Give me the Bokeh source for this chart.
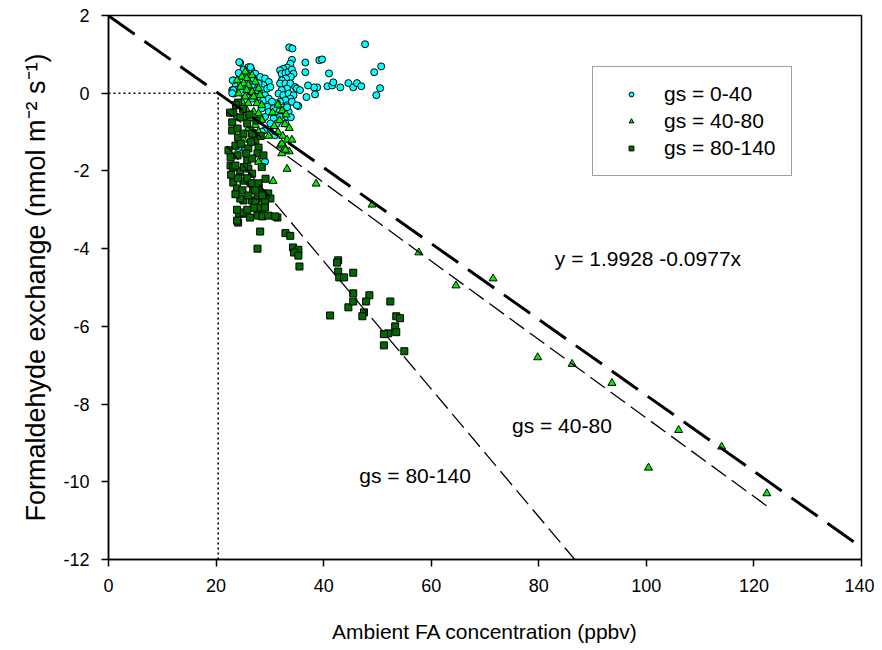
from bokeh.plotting import figure
from bokeh.models import Range1d, Label, Legend, LegendItem, FixedTicker
from bokeh.embed import file_html
from bokeh.resources import INLINE

FONT = "Liberation Sans"

x_ticks = [0, 20, 40, 60, 80, 100, 120, 140]
y_ticks = [-12, -10, -8, -6, -4, -2, 0, 2]

series_names = ["gs = 0-40", "gs = 40-80", "gs = 80-140"]

# gs = 0-40 (cyan circles)
g1_x = [33.6, 34.2, 47.7, 49.4, 50.7, 50.5, 49.8, 36.6, 36.6, 39.2, 39.7, 41.0, 40.7, 41.6, 41.8,
        43.1, 44.6, 45.5, 46.2, 47.0, 38.8, 38.2, 37.1, 38.4, 36.8, 35.3,
        34.1, 33.8, 33.2, 32.5, 31.9, 32.2, 32.9, 33.5, 34.1, 34.4, 33.9, 33.0, 32.2, 31.9, 32.9,
        33.8, 34.7, 35.0, 35.6, 33.2, 32.2, 31.6, 32.5, 33.5, 34.4, 33.8, 32.9, 31.9, 31.3, 33.2,
        34.1, 35.0, 32.5, 33.5, 31.6, 31.0, 31.9, 33.2, 33.9, 30.7, 31.3, 32.9,
        24.5, 26.0, 25.1, 26.6, 27.3, 25.7, 24.2, 23.3, 23.6, 24.5, 26.0, 27.0, 28.2, 29.1, 29.8,
        28.8, 27.9, 26.7, 25.4, 23.9, 23.0, 23.3, 24.8, 26.4, 27.6, 28.5, 29.5, 30.1, 29.1, 27.9,
        26.7, 25.4, 28.8, 29.8, 30.4, 29.5, 28.5, 29.8, 30.7, 29.1, 28.2, 29.1, 30.1, 27.3,
        24.3, 26.4, 23.9, 25.4, 29.1, 28.5, 24.5, 24.1, 30.1, 31.0, 23.2, 23.0, 23.1, 33.2]
g1_y = [1.18, 1.15, 1.26, 0.54, 0.69, 0.13, -0.05, 0.79, 0.54, 0.85, 0.87, 0.51, 0.18, 0.20, 0.28,
        0.15, 0.26, 0.15, 0.26, 0.18, 0.15, 0.15, 0.20, -0.03, -0.10, -0.33,
        0.86, 0.76, 0.66, 0.63, 0.59, 0.50, 0.52, 0.55, 0.61, 0.50, 0.42, 0.38, 0.33, 0.25, 0.25,
        0.25, 0.16, 0.12, 0.08, 0.12, 0.08, -0.01, -0.05, -0.01, -0.05, -0.14, -0.18, -0.22, -0.26, -0.31,
        -0.22, -0.31, -0.44, -0.48, -0.48, -0.56, -0.61, -0.61, -0.62, -0.65, -0.78, -0.78,
        0.78, 0.67, 0.61, 0.59, 0.50, 0.49, 0.52, 0.33, 0.25, 0.29, 0.32, 0.38, 0.42, 0.38, 0.29,
        0.21, 0.25, 0.21, 0.16, 0.09, 0.08, -0.01, 0.01, 0.03, 0.08, 0.08, 0.12, 0.16, -0.05, -0.09,
        -0.14, -0.16, -0.18, -0.14, -0.22, -0.35, -0.39, -0.48, -0.39, -0.61, -0.65, -0.95, -0.78, -1.03,
        0.80, 0.67, -1.33, -1.46, -1.76, -0.99, -1.20, -1.41, -1.00, -1.08, 0.08, 0.00, 0.33, -0.36]

# gs = 40-80 (green triangles)
g2_x = [25.4, 24.8, 25.7, 26.7, 23.9, 25.1, 26.0, 27.3, 24.5, 25.7, 26.7, 27.9, 24.2, 25.4, 27.0,
        28.2, 24.8, 26.0, 27.6, 28.5, 25.7, 27.0, 27.9, 25.1, 26.4, 28.5, 27.3, 26.0, 27.9,
        31.5, 32.3, 33.0, 31.8, 32.8, 33.6, 31.5, 32.4, 33.2, 31.9, 32.8, 33.6, 32.2, 30.8, 30.5,
        34.1, 29.8, 24.5, 32.2, 32.9, 25.1, 27.9, 26.9,
        33.2, 30.6, 38.6, 49.0, 57.7, 64.6, 71.5, 79.8, 86.2, 93.6, 100.4, 106.0, 114.0, 122.4]
g2_y = [0.55, 0.42, 0.38, 0.46, 0.33, 0.25, 0.21, 0.29, 0.16, 0.08, 0.03, 0.12, -0.01, -0.09, -0.09,
        -0.05, -0.22, -0.26, -0.26, -0.31, -0.44, -0.48, -0.52, -0.61, -0.65, -0.69, -0.82, -0.91, -0.99,
        -0.30, -0.45, -0.55, -0.70, -0.80, -0.90, -1.00, -1.10, -1.20, -1.35, -1.40, -1.50, -1.55, -0.85, -0.50,
        -1.20, -1.10, -2.05, -1.30, -1.46, -1.20, -1.77, -1.00,
        -1.95, -2.26, -2.33, -2.87, -4.10, -4.95, -4.77, -6.80, -6.97, -7.46, -9.64, -8.67, -9.10, -10.30]

# gs = 80-140 (dark green squares)
g3_x = [24.1, 23.2, 24.5, 23.0, 24.1, 23.6, 22.7, 23.2, 24.5, 23.2, 25.1, 26.4, 26.9, 27.9, 28.8,
        25.1, 26.7, 29.7, 30.1, 24.1, 24.9, 31.4, 27.3, 28.6, 29.1,
        23.6, 24.1, 23.9, 24.9, 24.5, 25.8, 26.0, 26.7, 25.8, 26.7, 27.9, 27.3, 26.0, 27.7, 28.6,
        29.1, 27.3, 28.2, 29.1, 27.7, 28.6, 29.7, 31.0, 24.3, 25.1, 23.9, 26.9, 27.3, 27.9, 26.0,
        27.7, 28.8, 26.7, 22.3, 22.7, 23.0, 24.0, 25.8, 25.1, 26.7,
        25.0, 26.2, 27.5, 24.6, 25.6, 26.5, 28.3, 24.0, 25.2, 28.5, 29.2, 27.0, 25.8, 23.6, 22.8,
        23.7, 22.6, 23.9, 26.3,
        28.2, 27.7, 32.9, 33.8, 34.3, 35.3, 34.5, 35.3, 35.5, 42.7, 42.5, 42.7, 42.9, 43.8, 45.5,
        41.2, 44.6, 45.5, 45.5, 48.5, 47.9, 52.4, 47.5, 47.2, 53.5, 54.2, 53.3, 53.5, 52.0, 51.2,
        51.2, 55.0]
g3_y = [-0.24, -0.50, -0.62, -0.96, -1.14, -1.35, -1.86, -1.91, -1.99, -2.30, -2.25, -2.32, -2.50, -2.43, -2.58,
        -2.76, -2.76, -2.58, -2.71, -3.33, -3.10, -3.20, -2.89, -3.02, -2.84,
        -1.86, -2.19, -2.45, -2.50, -2.71, -1.73, -1.94, -2.07, -2.19, -2.32, -2.32, -2.50, -2.63, -2.71, -2.63,
        -2.81, -2.81, -2.94, -2.94, -3.15, -3.17, -3.15, -3.17, -3.10, -3.07, -3.28, -1.04, -1.22, -1.40, -1.42,
        -1.55, -1.60, -1.68, -1.47, -1.65, -0.75, -0.91, -0.78, -1.04, -1.04,
        -0.40, -0.55, -0.70, -1.30, -1.55, -1.25, -1.10, -1.60, -1.90, -1.90, -2.20, -2.95, -3.00, -2.60, -2.10,
        -0.30, -0.50, -3.00, -3.20,
        -3.56, -4.00, -3.60, -3.67, -3.97, -4.03, -4.10, -4.18, -4.46, -4.30, -4.36, -4.59, -4.74, -4.74, -4.62,
        -5.72, -5.51, -5.15, -5.36, -5.20, -5.36, -5.36, -5.64, -5.74, -5.74, -5.79, -6.00, -6.15, -6.18, -6.20,
        -6.49, -6.64]

# regression lines: overall fit, gs = 40-80, gs = 80-140
fit_intercepts = [1.9928, 1.74, 2.26]
fit_slopes = [-0.0977, -0.101, -0.1645]
fit_xmin = [0.0, 22.0, 22.0]
fit_xmax = [140.0, 123.0, 90.0]

equation_text = "y = 1.9928 -0.0977x"

p = figure(frame_width=753, frame_height=544,
           x_range=Range1d(0, 140), y_range=Range1d(-12, 2),
           output_backend="svg", toolbar_location=None,
           min_border_left=108, min_border_top=15, min_border_right=13, min_border_bottom=91,
           background_fill_color="white", border_fill_color="white")

p.xgrid.grid_line_color = None
p.ygrid.grid_line_color = None
p.outline_line_color = "black"
p.outline_line_width = 1.5
p.outline_line_alpha = 1.0

for ax in (p.xaxis[0], p.yaxis[0]):
    ax.axis_line_width = 1.5
    ax.axis_line_color = "black"
    ax.major_tick_in = 0
    ax.major_tick_out = 7
    ax.major_tick_line_width = 1.5
    ax.minor_tick_line_color = None
    ax.major_label_text_font = FONT
    ax.major_label_text_font_size = "18px"
    ax.major_label_text_color = "black"
    ax.axis_label_text_font = FONT
    ax.axis_label_text_font_style = "normal"
    ax.axis_label_text_color = "black"

p.xaxis.ticker = FixedTicker(ticks=x_ticks)
p.yaxis.ticker = FixedTicker(ticks=y_ticks)
p.xaxis.major_label_overrides = {t: str(t) for t in x_ticks}
p.yaxis.major_label_overrides = {t: str(t) for t in y_ticks}
p.xaxis.major_label_standoff = 12
p.yaxis.major_label_standoff = 12
p.xaxis.axis_label = "Ambient FA concentration (ppbv)"
p.yaxis.axis_label = "Formaldehyde exchange (nmol m\u207b\u00b2 s\u207b\u00b9)"
p.xaxis.axis_label_text_font_size = "21px"
p.yaxis.axis_label_text_font_size = "27px"
p.xaxis.axis_label_standoff = 25
p.yaxis.axis_label_standoff = 9

# scatter series
r1 = p.scatter(g1_x, g1_y, marker="circle", size=7, fill_color="#00ffff",
               line_color="black", line_width=1)
r2 = p.scatter(g2_x, g2_y, marker="triangle", size=8, fill_color="#00ee00",
               line_color="black", line_width=1)
r3 = p.scatter(g3_x, g3_y, marker="square", size=7, fill_color="#006a00",
               line_color="black", line_width=1)

# dotted guide to the x-intercept of the overall fit
x0 = -fit_intercepts[0] / fit_slopes[0]
p.line([x0, x0], [y_ticks[0], 0], line_color="black", line_width=1.6, line_dash="2 3")
p.line([0, x0], [0, 0], line_color="black", line_width=1.6, line_dash="2 3")

# fit lines
styles = [dict(line_width=3, line_dash="32 12"),
          dict(line_width=1.3, line_dash="18 7"),
          dict(line_width=1.3, line_dash="18 7")]
for a, b, xa, xb, st in zip(fit_intercepts, fit_slopes, fit_xmin, fit_xmax, styles):
    p.line([xa, xb], [a + b * xa, a + b * xb], line_color="black", **st)

# annotations
p.add_layout(Label(x=100.3, y=-4.25, text=equation_text, text_font=FONT, text_font_size="21px",
                   text_align="center", text_baseline="middle", text_color="black"))
p.add_layout(Label(x=84.3, y=-8.55, text=series_names[1], text_font=FONT, text_font_size="21px",
                   text_align="center", text_baseline="middle", text_color="black"))
p.add_layout(Label(x=57.0, y=-9.84, text=series_names[2], text_font=FONT, text_font_size="21px",
                   text_align="center", text_baseline="middle", text_color="black"))

legend = Legend(items=[LegendItem(label=series_names[0], renderers=[r1]),
                       LegendItem(label=series_names[1], renderers=[r2]),
                       LegendItem(label=series_names[2], renderers=[r3])],
                location=(484, 383), padding=15, margin=0, spacing=3,
                glyph_width=46, glyph_height=12, label_standoff=10,
                label_text_font=FONT, label_text_font_size="21px", label_text_color="black",
                border_line_color="#404040", border_line_width=1.5,
                background_fill_color="white", background_fill_alpha=1.0)
p.add_layout(legend)

open("out.html", "w").write(file_html(p, INLINE))
